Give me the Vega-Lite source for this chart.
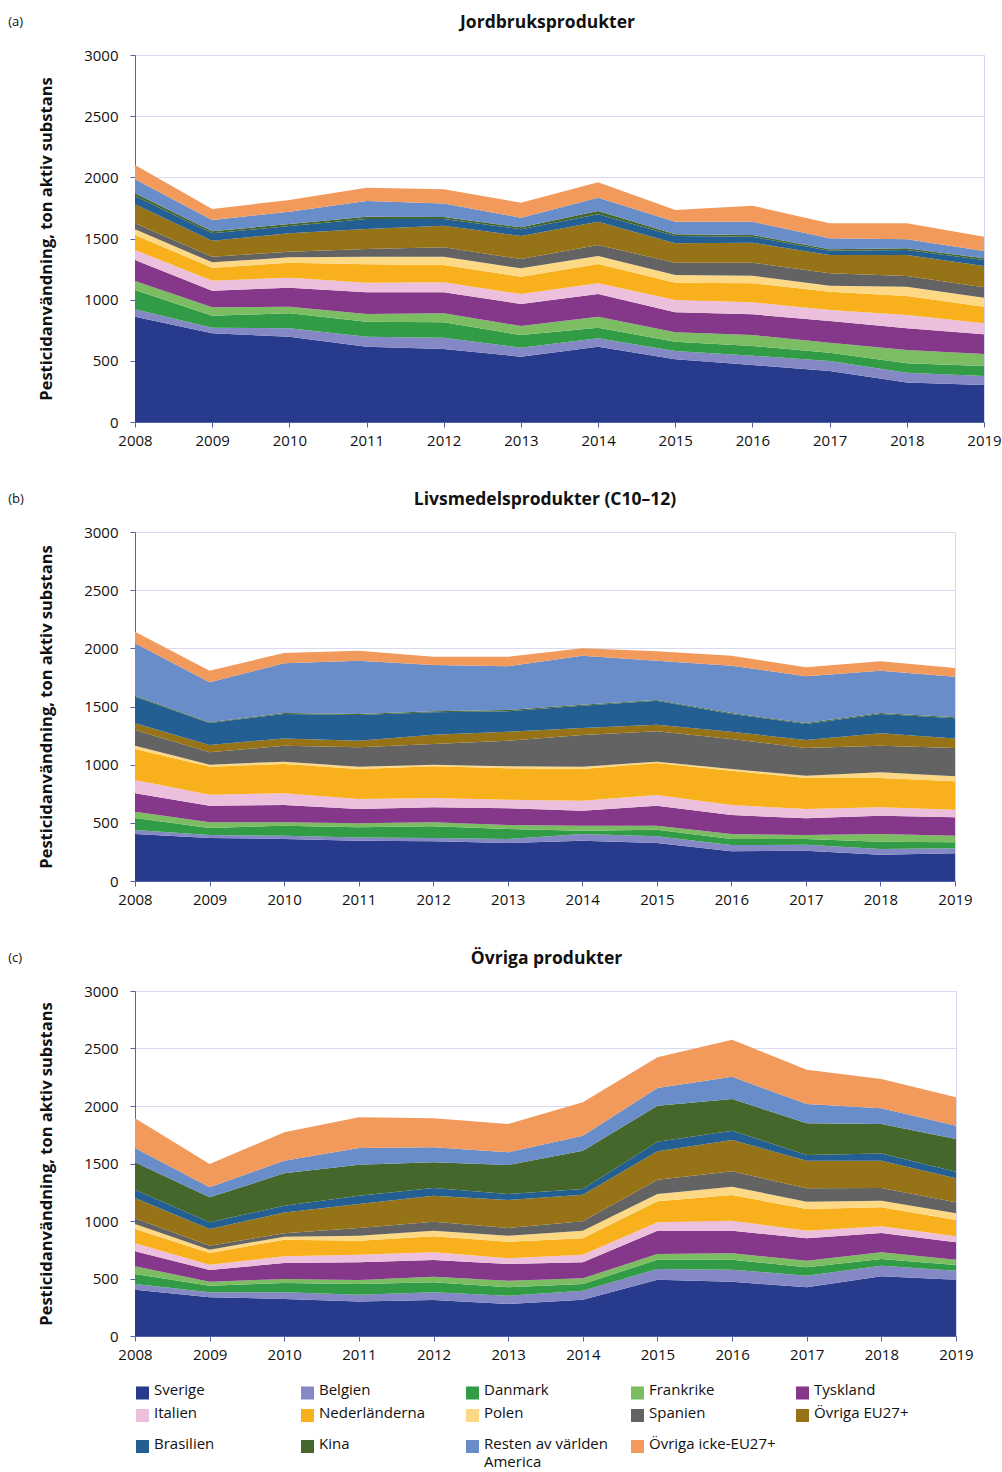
{
  "$schema": "https://vega.github.io/schema/vega-lite/v6.json",
  "padding": {"left": 8, "top": 13, "right": 0, "bottom": 0},
  "background": "white",
  "config": {
    "font": "Open Sans",
    "view": {"stroke": "#d6d6ee", "strokeWidth": 1},
    "axis": {"labelFontSize": 15, "labelColor": "#111", "domainColor": "#5262ad", "tickColor": "#5262ad", "gridColor": "#d9d9ef", "titleFontSize": 16.5, "titleFontWeight": "bold", "titleColor": "#111"},
    "title": {"fontSize": 17.5, "fontWeight": "bold", "color": "#111"},
    "legend": {"labelFontSize": 15, "labelColor": "#111"}
  },
  "datasets": {
    "ordning": [
      {"Land":"Sverige","rang":1},{"Land":"Belgien","rang":2},{"Land":"Danmark","rang":3},{"Land":"Frankrike","rang":4},{"Land":"Tyskland","rang":5},{"Land":"Italien","rang":6},{"Land":"Nederländerna","rang":7},{"Land":"Polen","rang":8},{"Land":"Spanien","rang":9},{"Land":"Övriga EU27+","rang":10},{"Land":"Brasilien","rang":11},{"Land":"Kina","rang":12},{"Land":"Resten av världen America","rang":13},{"Land":"Övriga icke-EU27+","rang":14}
    ],
    "a": [
      {"År":2008,"Sverige":861,"Belgien":60,"Danmark":158,"Frankrike":73,"Tyskland":172,"Italien":82,"Nederländerna":122,"Polen":47,"Spanien":49,"Övriga EU27+":155,"Brasilien":68,"Kina":22,"Resten av världen America":115,"Övriga icke-EU27+":117},
      {"År":2009,"Sverige":725,"Belgien":46,"Danmark":98,"Frankrike":68,"Tyskland":136,"Italien":82,"Nederländerna":106,"Polen":44,"Spanien":46,"Övriga EU27+":131,"Brasilien":60,"Kina":17,"Resten av världen America":92,"Övriga icke-EU27+":90},
      {"År":2010,"Sverige":697,"Belgien":69,"Danmark":122,"Frankrike":55,"Tyskland":155,"Italien":82,"Nederländerna":122,"Polen":44,"Spanien":46,"Övriga EU27+":150,"Brasilien":60,"Kina":16,"Resten av världen America":101,"Övriga icke-EU27+":96},
      {"År":2011,"Sverige":616,"Belgien":81,"Danmark":123,"Frankrike":63,"Tyskland":177,"Italien":79,"Nederländerna":150,"Polen":62,"Spanien":63,"Övriga EU27+":164,"Brasilien":81,"Kina":19,"Resten av världen America":128,"Övriga icke-EU27+":109},
      {"År":2012,"Sverige":597,"Belgien":92,"Danmark":126,"Frankrike":73,"Tyskland":172,"Italien":82,"Nederländerna":141,"Polen":68,"Spanien":77,"Övriga EU27+":177,"Brasilien":54,"Kina":17,"Resten av världen America":111,"Övriga icke-EU27+":115},
      {"År":2013,"Sverige":534,"Belgien":73,"Danmark":104,"Frankrike":74,"Tyskland":180,"Italien":81,"Nederländerna":142,"Polen":68,"Spanien":76,"Övriga EU27+":188,"Brasilien":55,"Kina":16,"Resten av världen America":79,"Övriga icke-EU27+":123},
      {"År":2014,"Sverige":616,"Belgien":68,"Danmark":87,"Frankrike":90,"Tyskland":185,"Italien":88,"Nederländerna":158,"Polen":65,"Spanien":90,"Övriga EU27+":190,"Brasilien":61,"Kina":27,"Resten av världen America":109,"Övriga icke-EU27+":125},
      {"År":2015,"Sverige":512,"Belgien":68,"Danmark":76,"Frankrike":77,"Tyskland":164,"Italien":100,"Nederländerna":142,"Polen":63,"Spanien":100,"Övriga EU27+":159,"Brasilien":59,"Kina":14,"Resten av världen America":103,"Övriga icke-EU27+":96},
      {"År":2016,"Sverige":466,"Belgien":76,"Danmark":79,"Frankrike":90,"Tyskland":169,"Italien":98,"Nederländerna":156,"Polen":62,"Spanien":106,"Övriga EU27+":164,"Brasilien":49,"Kina":14,"Resten av världen America":108,"Övriga icke-EU27+":131},
      {"År":2017,"Sverige":417,"Belgien":82,"Danmark":68,"Frankrike":81,"Tyskland":178,"Italien":90,"Nederländerna":149,"Polen":49,"Spanien":101,"Övriga EU27+":150,"Brasilien":35,"Kina":12,"Resten av världen America":90,"Övriga icke-EU27+":122},
      {"År":2018,"Sverige":322,"Belgien":81,"Danmark":77,"Frankrike":109,"Tyskland":177,"Italien":109,"Nederländerna":155,"Polen":76,"Spanien":87,"Övriga EU27+":172,"Brasilien":41,"Kina":14,"Resten av världen America":73,"Övriga icke-EU27+":131},
      {"År":2019,"Sverige":302,"Belgien":74,"Danmark":82,"Frankrike":98,"Tyskland":161,"Italien":90,"Nederländerna":136,"Polen":73,"Spanien":85,"Övriga EU27+":174,"Brasilien":49,"Kina":14,"Resten av världen America":60,"Övriga icke-EU27+":117}
    ],
    "b": [
      {"År":2008,"Sverige":404,"Belgien":34,"Danmark":104,"Frankrike":54,"Tyskland":158,"Italien":114,"Nederländerna":267,"Polen":28,"Spanien":135,"Övriga EU27+":57,"Brasilien":229,"Kina":9,"Resten av världen America":450,"Övriga icke-EU27+":100},
      {"År":2009,"Sverige":370,"Belgien":25,"Danmark":61,"Frankrike":48,"Tyskland":143,"Italien":95,"Nederländerna":241,"Polen":17,"Spanien":106,"Övriga EU27+":63,"Brasilien":189,"Kina":6,"Resten av världen America":344,"Övriga icke-EU27+":100},
      {"År":2010,"Sverige":361,"Belgien":29,"Danmark":86,"Frankrike":28,"Tyskland":149,"Italien":101,"Nederländerna":252,"Polen":20,"Spanien":137,"Övriga EU27+":63,"Brasilien":210,"Kina":8,"Resten av världen America":427,"Övriga icke-EU27+":89},
      {"År":2011,"Sverige":347,"Belgien":28,"Danmark":86,"Frankrike":35,"Tyskland":123,"Italien":86,"Nederländerna":258,"Polen":20,"Spanien":166,"Övriga EU27+":57,"Brasilien":221,"Kina":9,"Resten av världen America":458,"Övriga icke-EU27+":86},
      {"År":2012,"Sverige":341,"Belgien":29,"Danmark":100,"Frankrike":34,"Tyskland":129,"Italien":80,"Nederländerna":273,"Polen":14,"Spanien":178,"Övriga EU27+":80,"Brasilien":192,"Kina":9,"Resten av världen America":398,"Övriga icke-EU27+":71},
      {"År":2013,"Sverige":327,"Belgien":34,"Danmark":86,"Frankrike":34,"Tyskland":144,"Italien":74,"Nederländerna":270,"Polen":17,"Spanien":220,"Övriga EU27+":77,"Brasilien":176,"Kina":11,"Resten av världen America":375,"Övriga icke-EU27+":83},
      {"År":2014,"Sverige":347,"Belgien":57,"Danmark":28,"Frankrike":44,"Tyskland":128,"Italien":86,"Nederländerna":273,"Polen":20,"Spanien":272,"Övriga EU27+":60,"Brasilien":192,"Kina":9,"Resten av världen America":421,"Övriga icke-EU27+":63},
      {"År":2015,"Sverige":327,"Belgien":57,"Danmark":57,"Frankrike":35,"Tyskland":171,"Italien":92,"Nederländerna":275,"Polen":12,"Spanien":261,"Övriga EU27+":57,"Brasilien":206,"Kina":6,"Resten av världen America":338,"Övriga icke-EU27+":80},
      {"År":2016,"Sverige":255,"Belgien":54,"Danmark":52,"Frankrike":43,"Tyskland":163,"Italien":86,"Nederländerna":295,"Polen":15,"Spanien":258,"Övriga EU27+":62,"Brasilien":153,"Kina":8,"Resten av världen America":407,"Övriga icke-EU27+":86},
      {"År":2017,"Sverige":261,"Belgien":51,"Danmark":49,"Frankrike":34,"Tyskland":144,"Italien":80,"Nederländerna":266,"Polen":20,"Spanien":238,"Övriga EU27+":69,"Brasilien":138,"Kina":8,"Resten av världen America":402,"Övriga icke-EU27+":77},
      {"År":2018,"Sverige":226,"Belgien":49,"Danmark":63,"Frankrike":66,"Tyskland":157,"Italien":72,"Nederländerna":252,"Polen":49,"Spanien":229,"Övriga EU27+":107,"Brasilien":166,"Kina":8,"Resten av världen America":364,"Övriga icke-EU27+":80},
      {"År":2019,"Sverige":238,"Belgien":43,"Danmark":52,"Frankrike":57,"Tyskland":158,"Italien":65,"Nederländerna":244,"Polen":43,"Spanien":243,"Övriga EU27+":83,"Brasilien":173,"Kina":8,"Resten av världen America":349,"Övriga icke-EU27+":75}
    ],
    "c": [
      {"År":2008,"Sverige":403,"Belgien":49,"Danmark":87,"Frankrike":67,"Tyskland":130,"Italien":70,"Nederländerna":124,"Polen":44,"Spanien":49,"Övriga EU27+":177,"Brasilien":72,"Kina":238,"Resten av världen America":125,"Övriga icke-EU27+":258},
      {"År":2009,"Sverige":336,"Belgien":44,"Danmark":58,"Frankrike":34,"Tyskland":102,"Italien":46,"Nederländerna":102,"Polen":29,"Spanien":34,"Övriga EU27+":145,"Brasilien":59,"Kina":217,"Resten av världen America":87,"Övriga icke-EU27+":203},
      {"År":2010,"Sverige":322,"Belgien":58,"Danmark":81,"Frankrike":35,"Tyskland":139,"Italien":58,"Nederländerna":145,"Polen":26,"Spanien":29,"Övriga EU27+":182,"Brasilien":58,"Kina":282,"Resten av världen America":110,"Övriga icke-EU27+":246},
      {"År":2011,"Sverige":299,"Belgien":60,"Danmark":93,"Frankrike":35,"Tyskland":154,"Italien":66,"Nederländerna":122,"Polen":43,"Spanien":67,"Övriga EU27+":209,"Brasilien":72,"Kina":270,"Resten av världen America":145,"Övriga icke-EU27+":267},
      {"År":2012,"Sverige":313,"Belgien":67,"Danmark":87,"Frankrike":49,"Tyskland":145,"Italien":67,"Nederländerna":139,"Polen":49,"Spanien":78,"Övriga EU27+":226,"Brasilien":67,"Kina":223,"Resten av världen America":131,"Övriga icke-EU27+":252},
      {"År":2013,"Sverige":278,"Belgien":72,"Danmark":73,"Frankrike":58,"Tyskland":145,"Italien":50,"Nederländerna":144,"Polen":52,"Spanien":67,"Övriga EU27+":244,"Brasilien":52,"Kina":252,"Resten av världen America":110,"Övriga icke-EU27+":247},
      {"År":2014,"Sverige":316,"Belgien":78,"Danmark":58,"Frankrike":50,"Tyskland":139,"Italien":66,"Nederländerna":143,"Polen":66,"Spanien":81,"Övriga EU27+":232,"Brasilien":49,"Kina":333,"Resten av världen America":131,"Övriga icke-EU27+":290},
      {"År":2015,"Sverige":490,"Belgien":93,"Danmark":81,"Frankrike":49,"Tyskland":203,"Italien":73,"Nederländerna":182,"Polen":64,"Spanien":124,"Övriga EU27+":247,"Brasilien":84,"Kina":313,"Resten av världen America":154,"Övriga icke-EU27+":266},
      {"År":2016,"Sverige":472,"Belgien":105,"Danmark":87,"Frankrike":55,"Tyskland":197,"Italien":87,"Nederländerna":223,"Polen":72,"Spanien":134,"Övriga EU27+":272,"Brasilien":81,"Kina":276,"Resten av världen America":194,"Övriga icke-EU27+":322},
      {"År":2017,"Sverige":423,"Belgien":101,"Danmark":73,"Frankrike":58,"Tyskland":195,"Italien":66,"Nederländerna":188,"Polen":64,"Spanien":116,"Övriga EU27+":241,"Brasilien":49,"Kina":276,"Resten av världen America":167,"Övriga icke-EU27+":299},
      {"År":2018,"Sverige":519,"Belgien":92,"Danmark":59,"Frankrike":58,"Tyskland":168,"Italien":58,"Nederländerna":165,"Polen":58,"Spanien":110,"Övriga EU27+":238,"Brasilien":63,"Kina":256,"Resten av världen America":136,"Övriga icke-EU27+":255},
      {"År":2019,"Sverige":490,"Belgien":78,"Danmark":49,"Frankrike":47,"Tyskland":151,"Italien":52,"Nederländerna":142,"Polen":58,"Spanien":96,"Övriga EU27+":208,"Brasilien":58,"Kina":284,"Resten av världen America":116,"Övriga icke-EU27+":247}
    ]
  },
  "spacing": 41,
  "vconcat": [
    {
      "title": {"text": "(a)", "anchor": "start", "fontSize": 13, "fontWeight": "normal", "offset": -16, "dx": -30},
      "vconcat": [
        {
          "title": {"text": "Jordbruksprodukter", "offset": 17, "dx": -12},
          "width": 849, "height": 367,
          "data": {"name": "a"},
          "transform": [
            {"fold": ["Sverige","Belgien","Danmark","Frankrike","Tyskland","Italien","Nederländerna","Polen","Spanien","Övriga EU27+","Brasilien","Kina","Resten av världen America","Övriga icke-EU27+"], "as": ["Land", "Värde"]},
            {"lookup": "Land", "from": {"data": {"name": "ordning"}, "key": "Land", "fields": ["rang"]}}
          ],
          "mark": {"type": "area"},
          "encoding": {
            "x": {"field": "År", "type": "quantitative", "scale": {"domain": [2008, 2019], "nice": false}, "axis": {"values": [2008,2009,2010,2011,2012,2013,2014,2015,2016,2017,2018,2019], "format": "d", "title": null, "grid": false, "labelPadding": 6, "labelFlush": false}},
            "y": {"field": "Värde", "type": "quantitative", "stack": "zero", "scale": {"domain": [0, 3000], "nice": false}, "axis": {"values": [0,500,1000,1500,2000,2500,3000], "format": "d", "title": "Pesticidanvändning, ton aktiv substans", "labelPadding": 12, "titlePadding": 29}},
            "order": {"field": "rang", "type": "quantitative", "sort": "ascending"},
            "color": {"field": "Land", "type": "nominal",
              "scale": {"domain": ["Sverige","Belgien","Danmark","Frankrike","Tyskland","Italien","Nederländerna","Polen","Spanien","Övriga EU27+","Brasilien","Kina","Resten av världen America","Övriga icke-EU27+"],
                        "range": ["#283a8c","#8489c5","#319c45","#7cbd63","#853789","#ecc0dc","#f8b11c","#fdd985","#636363","#967316","#245f93","#45672b","#698dc8","#f2995c"]},
              "legend": {"title": null, "orient": "bottom", "offset": 14, "direction": "horizontal", "columns": 5, "symbolType": "square", "symbolSize": 170, "symbolStrokeWidth": 0, "columnPadding": 19, "rowPadding": -13, "gridAlign": "all", "labelLimit": 200,
                "labelBaseline": "top",
                "labelExpr": "datum.label == 'Resten av världen America' ? ['Resten av världen', 'America'] : datum.label",
                "encode": {"labels": {"update": {"dy": {"value": -10}, "lineHeight": {"value": 18}}}}}
            }
          }
        }
      ]
    },
    {
      "title": {"text": "(b)", "anchor": "start", "fontSize": 13, "fontWeight": "normal", "offset": -16, "dx": -30},
      "vconcat": [
        {
          "title": {"text": "Livsmedelsprodukter (C10–12)", "offset": 17, "dx": 0},
          "width": 820, "height": 349,
          "data": {"name": "b"},
          "transform": [
            {"fold": ["Sverige","Belgien","Danmark","Frankrike","Tyskland","Italien","Nederländerna","Polen","Spanien","Övriga EU27+","Brasilien","Kina","Resten av världen America","Övriga icke-EU27+"], "as": ["Land", "Värde"]},
            {"lookup": "Land", "from": {"data": {"name": "ordning"}, "key": "Land", "fields": ["rang"]}}
          ],
          "mark": {"type": "area"},
          "encoding": {
            "x": {"field": "År", "type": "quantitative", "scale": {"domain": [2008, 2019], "nice": false}, "axis": {"values": [2008,2009,2010,2011,2012,2013,2014,2015,2016,2017,2018,2019], "format": "d", "title": null, "grid": false, "labelPadding": 6, "labelFlush": false}},
            "y": {"field": "Värde", "type": "quantitative", "stack": "zero", "scale": {"domain": [0, 3000], "nice": false}, "axis": {"values": [0,500,1000,1500,2000,2500,3000], "format": "d", "title": "Pesticidanvändning, ton aktiv substans", "labelPadding": 12, "titlePadding": 29}},
            "order": {"field": "rang", "type": "quantitative", "sort": "ascending"},
            "color": {"field": "Land", "type": "nominal"}
          }
        }
      ]
    },
    {
      "title": {"text": "(c)", "anchor": "start", "fontSize": 13, "fontWeight": "normal", "offset": -16, "dx": -30},
      "vconcat": [
        {
          "title": {"text": "Övriga produkter", "offset": 17, "dx": 1},
          "width": 821, "height": 345,
          "data": {"name": "c"},
          "transform": [
            {"fold": ["Sverige","Belgien","Danmark","Frankrike","Tyskland","Italien","Nederländerna","Polen","Spanien","Övriga EU27+","Brasilien","Kina","Resten av världen America","Övriga icke-EU27+"], "as": ["Land", "Värde"]},
            {"lookup": "Land", "from": {"data": {"name": "ordning"}, "key": "Land", "fields": ["rang"]}}
          ],
          "mark": {"type": "area"},
          "encoding": {
            "x": {"field": "År", "type": "quantitative", "scale": {"domain": [2008, 2019], "nice": false}, "axis": {"values": [2008,2009,2010,2011,2012,2013,2014,2015,2016,2017,2018,2019], "format": "d", "title": null, "grid": false, "labelPadding": 6, "labelFlush": false}},
            "y": {"field": "Värde", "type": "quantitative", "stack": "zero", "scale": {"domain": [0, 3000], "nice": false}, "axis": {"values": [0,500,1000,1500,2000,2500,3000], "format": "d", "title": "Pesticidanvändning, ton aktiv substans", "labelPadding": 12, "titlePadding": 29}},
            "order": {"field": "rang", "type": "quantitative", "sort": "ascending"},
            "color": {"field": "Land", "type": "nominal"}
          }
        }
      ]
    }
  ]
}
